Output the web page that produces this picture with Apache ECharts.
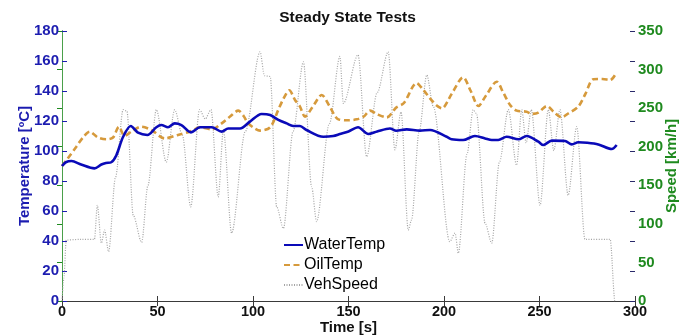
<!DOCTYPE html>
<html>
<head>
<meta charset="utf-8">
<script src="https://cdn.jsdelivr.net/npm/echarts/dist/echarts.min.js"></script>
<style>
  html, body { margin: 0; padding: 0; background: #ffffff; }
  #chart { width: 695px; height: 336px; }
</style>
</head>
<body>
<div id="chart"></div>
<script>
// Time ticks and axis ranges
const timeTicks = [0, 50, 100, 150, 200, 250, 300];
const tempTicks = [0, 20, 40, 60, 80, 100, 120, 140, 160, 180];
const speedTicks = [0, 50, 100, 150, 200, 250, 300, 350];

// WaterTemp [°C]
const waterTime = [0, 2, 5, 10, 17, 20.6, 23, 25.8, 28.4, 32, 36, 39.8, 44.7, 49.4, 52, 55.5, 59, 62.5,
  67.5, 72.3, 78.4, 83.6, 87, 93.2, 98.4, 104.5, 109, 113.3, 117.6, 121, 124.6, 128, 136.8, 142,
  145.5, 150, 155, 160.4, 165, 171.7, 175, 180.5, 187.4, 192.7, 201.4, 204, 210, 216.2, 221.5,
  225, 228.4, 232.8, 239, 243.3, 249.4, 252, 256.4, 263.4, 266.9, 270.3, 275, 280.8, 287.8, 290.4];
const waterTemp = [90, 92.5, 93.3, 91, 88.4, 91, 92, 92.5, 97, 109.5, 116.7, 112.2, 110.7, 115.8, 117.3, 115.8, 118.4, 117.3,
  112.4, 115.8, 115.8, 112.9, 115, 115, 119.6, 124.7, 124, 120.7, 118.4, 116.7, 116.7, 114, 109.5, 110,
  111.3, 113, 115.8, 111.3, 113, 115, 113.5, 114.4, 113.6, 114, 109.5, 107.8, 107.3, 110, 108.4,
  107.3, 107.3, 109.5, 107.8, 110, 106.2, 104, 106.9, 106.7, 104.4, 105.8, 105.5, 104.4, 101.3, 104];

// OilTemp [°C]
const oilTime = [0, 3, 7.5, 11, 14.5, 18.8, 23.2, 26.7, 29.8, 32.8, 36.3, 41.5, 46.8, 53.8, 60.7, 67,
  72.3, 78.4, 83.6, 88, 92.3, 95, 97.5, 101, 103.7, 109, 113.2, 116, 119, 122, 124.6, 127.2, 131,
  136, 140, 144.7, 150, 154.3, 158, 161.3, 165, 170, 175, 179, 185.7, 189, 192.7, 196, 198.8, 204,
  210, 214, 218, 222, 227.6, 231, 234.6, 238, 243.3, 245.9, 249.4, 253.8, 257.5, 261.6, 265, 270.3,
  274, 278.2, 283, 287, 290.4];
const oilTemp = [90, 95, 102.9, 109, 112.9, 109, 107.8, 109, 116.2, 110, 112.9, 116.2, 114, 108.4, 110.7, 112.9,
  115.8, 114.4, 118.4, 123, 126.9, 123.5, 118.4, 115, 113.6, 115.8, 127.3, 135, 140.5, 134, 129.6, 122.9, 129,
  137.3, 130, 121.1, 120.5, 121.1, 123, 126.9, 124.5, 122.4, 129, 132, 145.3, 141, 135.1, 130.5, 128.4, 138,
  149.1, 140, 130, 137, 146.2, 139, 130.7, 126.9, 126.2, 124.7, 125.6, 130, 126, 122.4, 125, 129.6,
  138, 147.8, 148, 147.3, 152.6];

// VehSpeed [km/h]
const speedTime = [0, 1, 2.2, 10, 17, 18.5, 20.6, 22.3, 24.4, 28, 32, 34, 37.3, 41.7, 45, 49.4, 54.6, 59,
  63, 67.4, 72, 75, 78, 81.8, 84.5, 88.8, 96, 103.7, 106, 109, 112.4, 115.9, 121, 126.4, 130.7, 133.3,
  140, 145.5, 147.3, 155, 159.5, 165, 170.8, 174.3, 177.5, 181.3, 183, 187, 191, 194.4, 203, 205.8,
  207.5, 212, 215.3, 217, 221.5, 225, 229, 233.7, 238, 240.7, 243, 245.7, 250.3, 254.6, 257.5, 260.7,
  265, 269.5, 273.8, 287, 289.5, 290];
const speedValue = [0, 30, 79, 80, 80, 124, 75, 92, 64, 160, 248, 246, 111, 76, 150, 248, 180, 248,
  215, 122, 248, 236, 248, 135, 222, 88, 220, 323, 292, 291, 122, 94, 220, 310, 148, 103,
  230, 317, 256, 319, 187, 270, 323, 196, 245, 92, 105, 220, 293, 252, 77, 88,
  62, 190, 248, 243, 101, 75, 180, 248, 176, 248, 205, 248, 124, 248, 195, 248,
  137, 226, 80, 80, 0, 0];

const zip = (xs, ys) => xs.map((x, i) => [x, ys[i]]);

const FONT = '"Liberation Sans", Arial, sans-serif';
const BLUE = '#1c1cb0';
const GREEN = '#1f8a1f';
const FRAME = '#3a3a3a';

const chart = echarts.init(document.getElementById('chart'), null, { renderer: 'canvas' });

chart.setOption({
  animation: false,
  backgroundColor: '#ffffff',
  title: {
    text: 'Steady State Tests',
    left: 'center',
    top: 5,
    textStyle: { fontFamily: FONT, fontSize: 15.5, fontWeight: 'bold', color: '#111' }
  },
  grid: { left: 62, right: 60, top: 31, bottom: 35, containLabel: false, outerBoundsMode: 'none' },
  legend: {
    orient: 'vertical',
    left: 283,
    top: 237,
    itemWidth: 19,
    itemHeight: 14,
    itemGap: 4,
    padding: 0,
    itemStyle: { opacity: 0 },
    textStyle: { fontFamily: FONT, fontSize: 16, color: '#000', padding: [0, 0, 0, -4] },
    data: ['WaterTemp', 'OilTemp', 'VehSpeed']
  },
  xAxis: [
    {
      type: 'value',
      min: timeTicks[0],
      max: timeTicks[timeTicks.length - 1],
      interval: 50,
      name: 'Time [s]',
      nameLocation: 'middle',
      nameGap: 19,
      nameMoveOverlap: false,
      nameTextStyle: { fontFamily: FONT, fontSize: 15, fontWeight: 'bold', color: '#111' },
      axisLine: { show: true, lineStyle: { color: FRAME, width: 1 } },
      axisTick: { show: true, inside: true, length: 5, lineStyle: { color: FRAME } },
      axisLabel: { margin: 3, fontFamily: FONT, fontSize: 14.5, fontWeight: 'bold', color: '#111' },
      splitLine: { show: false }
    },
    {
      type: 'value',
      position: 'top',
      min: timeTicks[0],
      max: timeTicks[timeTicks.length - 1],
      interval: 50,
      axisLine: { show: true, lineStyle: { color: FRAME, width: 1 } },
      axisTick: { show: true, inside: true, length: 5, lineStyle: { color: FRAME } },
      axisLabel: { show: false },
      splitLine: { show: false }
    }
  ],
  yAxis: [
    {
      type: 'value',
      position: 'left',
      min: tempTicks[0],
      max: tempTicks[tempTicks.length - 1],
      interval: 20,
      name: 'Temperature [ºC]',
      nameLocation: 'middle',
      nameGap: 30,
      nameMoveOverlap: false,
      nameTextStyle: { fontFamily: FONT, fontSize: 15, fontWeight: 'bold', color: BLUE },
      axisLine: { show: true, lineStyle: { color: FRAME, width: 1 } },
      axisTick: { show: true, inside: true, length: 5, lineStyle: { color: BLUE } },
      axisLabel: { margin: 3, fontFamily: FONT, fontSize: 15, fontWeight: 'bold', color: BLUE },
      splitLine: { show: false }
    },
    {
      type: 'value',
      position: 'right',
      min: speedTicks[0],
      max: speedTicks[speedTicks.length - 1],
      interval: 50,
      name: 'Speed [km/h]',
      nameLocation: 'middle',
      nameGap: 29,
      nameMoveOverlap: false,
      nameTextStyle: { fontFamily: FONT, fontSize: 15, fontWeight: 'bold', color: GREEN },
      axisLine: { show: true, lineStyle: { color: '#4aa04a', width: 1 } },
      axisTick: { show: true, inside: true, length: 5, lineStyle: { color: GREEN } },
      axisLabel: { margin: 3, fontFamily: FONT, fontSize: 15, fontWeight: 'bold', color: GREEN },
      splitLine: { show: false }
    },
    {
      // temperature ticks repeated on the right edge of the box
      type: 'value',
      position: 'right',
      offset: 0,
      min: tempTicks[0],
      max: tempTicks[tempTicks.length - 1],
      interval: 20,
      axisLine: { show: false },
      axisTick: { show: true, inside: true, length: 5, lineStyle: { color: '#2a2a6a' } },
      axisLabel: { show: false },
      splitLine: { show: false }
    }
  ],
  series: [
    {
      name: 'WaterTemp',
      type: 'line',
      xAxisIndex: 0,
      yAxisIndex: 0,
      data: zip(waterTime, waterTemp),
      smooth: 0.3,
      symbol: 'none',
      z: 4,
      lineStyle: { color: '#0a0ab8', width: 2.6 },
      itemStyle: { color: '#0a0ab8' }
    },
    {
      name: 'OilTemp',
      type: 'line',
      xAxisIndex: 0,
      yAxisIndex: 0,
      data: zip(oilTime, oilTemp),
      smooth: 0.3,
      symbol: 'none',
      z: 3,
      lineStyle: { color: '#d69a3c', width: 2.6, type: [6, 3.5] },
      itemStyle: { color: '#d69a3c' }
    },
    {
      name: 'VehSpeed',
      type: 'line',
      xAxisIndex: 0,
      yAxisIndex: 1,
      data: zip(speedTime, speedValue),
      smooth: 0.3,
      smoothMonotone: 'x',
      symbol: 'none',
      z: 2,
      lineStyle: { color: '#a4a4a4', width: 1.2, type: [1, 1.5] },
      itemStyle: { color: '#a4a4a4' }
    }
  ]
});
</script>
</body>
</html>
